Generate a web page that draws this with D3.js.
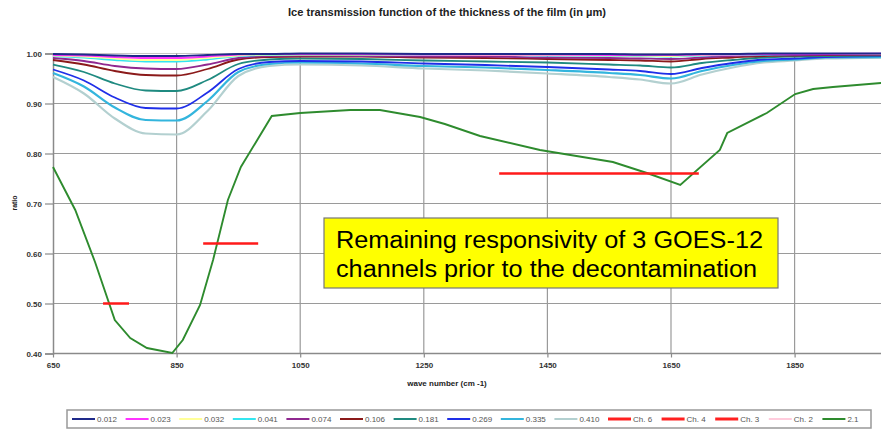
<!DOCTYPE html>
<html><head><meta charset="utf-8">
<script src="https://cdn.jsdelivr.net/npm/d3@7"></script>
<style>
html,body{margin:0;padding:0;background:#fff;}
svg{display:block;font-family:"Liberation Sans",Arial,sans-serif;}
</style></head>
<body>
<svg id="chart" width="881" height="429"></svg>
<script>
// ---------- DATA ----------
const chartTitle = "Ice transmission function of  the thickness of the film (in µm)";
const xTitle = "wave number (cm -1)";
const yTitle = "ratio";
const xTicks = [650, 850, 1050, 1250, 1450, 1650, 1850];
const yTicks = [0.40, 0.50, 0.60, 0.70, 0.80, 0.90, 1.00];

const wavenumbers = [650,700,750,800,850,900,950,1000,1050,1150,1250,1350,1450,1550,1600,1650,1700,1750,1800,1850,1900,2000];
const t0012 = [.999,.998,.996,.995,.995,.997,.999,.999,1.0,1.0,.999,.999,.999,.999,.998,.998,.999,.999,1.0,1.0,1.0,1.0];
const t0023 = [.997,.996,.993,.991,.991,.994,.998,.999,.999,.999,.998,.998,.998,.997,.997,.997,.998,.998,.999,.999,.999,1.0];
const t0032 = [.996,.994,.990,.987,.987,.991,.996,.998,.998,.998,.998,.997,.997,.996,.996,.995,.997,.998,.999,.999,.999,.999];
const t0041 = [.995,.992,.987,.984,.984,.988,.995,.997,.998,.998,.997,.997,.996,.995,.995,.994,.996,.997,.998,.999,.999,.999];
const t0074 = [.991,.985,.975,.970,.969,.978,.991,.995,.996,.995,.994,.994,.992,.991,.990,.989,.992,.995,.997,.997,.998,.998];
const t0106 = [.987,.978,.965,.957,.956,.969,.988,.993,.994,.994,.992,.991,.989,.987,.986,.984,.989,.992,.995,.996,.997,.998];
const t0181 = [.978,.963,.940,.926,.925,.947,.979,.988,.990,.989,.986,.984,.982,.978,.976,.972,.981,.987,.992,.994,.995,.996];
const t0269 = [.968,.946,.912,.891,.890,.922,.969,.983,.985,.984,.980,.977,.973,.968,.965,.959,.971,.981,.988,.990,.993,.995];
const t0335 = [.961,.934,.892,.867,.866,.905,.963,.979,.982,.980,.975,.972,.967,.961,.957,.950,.965,.977,.985,.988,.992,.993];
const t0410 = [.953,.920,.870,.840,.838,.885,.955,.975,.978,.976,.970,.966,.960,.953,.948,.940,.958,.972,.982,.986,.990,.992];

const filmX = [650,686,718,750,775,802,843,860,888,909,933,954,1004,1050,1131,1179,1244,1284,1341,1438,1556,1611,1665,1729,1741,1805,1851,1880,1912,1990];
const filmY = [.773,.687,.583,.467,.431,.411,.401,.427,.497,.587,.707,.773,.875,.881,.887,.887,.873,.859,.835,.807,.783,.761,.737,.807,.841,.881,.919,.929,.933,.941];

const channelNames = ["Ch. 6","Ch. 4","Ch. 3"];
const channelStart = [731, 893, 1372];
const channelEnd   = [773, 982, 1695];
const channelLevel = [0.50, 0.62, 0.76];

const seriesNames = ["0.012","0.023","0.032","0.041","0.074","0.106","0.181","0.269","0.335","0.410"];
const seriesValues = [t0012,t0023,t0032,t0041,t0074,t0106,t0181,t0269,t0335,t0410];
const legendNames = ["0.012","0.023","0.032","0.041","0.074","0.106","0.181","0.269","0.335","0.410","Ch. 6","Ch. 4","Ch. 3","Ch. 2","2.1"];

const noteLines = ["Remaining responsivity of 3 GOES-12","channels prior to the decontamination"];

// ---------- STYLE ----------
const seriesColors = ["#1f2a8a","#ff33ff","#ffff99","#33e6f0","#902890","#8b1a1a","#1f8a80","#1f2fe8","#33b5dd","#b3d0d0"];
const legendColors = seriesColors.concat(["#ff2020","#ff2020","#ff2020","#ffccdd","#2e8b2e"]);
const legendWidths = [2,2,2,2,2,2,2,2,2,2,3,3,3,2,2];

const svg = d3.select("#chart");
const x = d3.scaleLinear().domain([650, 2000]).range([53, 887.3]);
const y = d3.scaleLinear().domain([0.40, 1.00]).range([353.5, 53.5]);

const plot = svg.append("g");
// gridlines
plot.selectAll(".hg").data(yTicks).enter().append("line")
  .attr("x1", x(650)).attr("x2", 881)
  .attr("y1", d => y(d)).attr("y2", d => y(d))
  .attr("stroke", d => d === 1.00 ? "#c8c8c8" : "#9a9a9a").attr("stroke-width", 1.2);
plot.selectAll(".vg").data(xTicks.slice(1)).enter().append("line")
  .attr("x1", d => x(d)).attr("x2", d => x(d))
  .attr("y1", y(1.0)).attr("y2", y(0.4))
  .attr("stroke", "#9a9a9a").attr("stroke-width", 1.2);

// axes
const yAxis = d3.axisLeft(y).tickValues(yTicks).tickFormat(d3.format(".2f")).tickSize(8).tickPadding(3);
const gy = svg.append("g").attr("transform", `translate(${x(650)},0)`).call(yAxis);
const xAxis = d3.axisBottom(x).tickValues(xTicks).tickFormat(d3.format("d")).tickSize(4).tickPadding(5);
const gx = svg.append("g").attr("transform", `translate(0,${y(0.4)})`).call(xAxis);
[gx, gy].forEach(g => {
  g.select(".domain").attr("stroke", "#8a8a8a").attr("stroke-width", 1.5);
  g.selectAll(".tick line").attr("stroke", "#8a8a8a").attr("stroke-width", 1.2);
  g.selectAll(".tick text").attr("fill", "#333").attr("font-size", "8px").attr("font-weight", "bold")
    .attr("font-family", "'Liberation Sans',Arial,sans-serif");
});
gx.select(".domain").attr("d", `M${x(650)},0H881`);

// thickness curves
const line = d3.line().x((d, i) => x(wavenumbers[i])).y(d => y(d)).curve(d3.curveMonotoneX);
const order = [9,8,7,6,5,4,3,2,1,0];
order.forEach(i => {
  svg.append("path").datum(seriesValues[i]).attr("d", line)
    .attr("fill", "none").attr("stroke", seriesColors[i])
    .attr("stroke-width", i >= 8 ? 2.2 : 1.8);
});

// film curve 2.1
const fline = d3.line().x((d, i) => x(filmX[i])).y(d => y(d));
svg.append("path").datum(filmY).attr("d", fline)
  .attr("fill", "none").attr("stroke", "#2e8b2e").attr("stroke-width", 1.9);

// channel bars
channelLevel.forEach((v, i) => {
  svg.append("line").attr("x1", x(channelStart[i])).attr("x2", x(channelEnd[i]))
    .attr("y1", y(v)).attr("y2", y(v)).attr("stroke", "#ff1a1a").attr("stroke-width", 2.5);
});

// note box
svg.append("rect").attr("x", 324).attr("y", 218).attr("width", 454).attr("height", 70)
  .attr("fill", "#ffff00").attr("stroke", "#777").attr("stroke-width", 1.2);
const noteWidths = [427, 421];
noteLines.forEach((t, i) => {
  svg.append("text").attr("x", 336).attr("y", 248 + i * 29).text(t)
    .attr("font-size", "23px").attr("fill", "#000")
    .attr("textLength", noteWidths[i]).attr("lengthAdjust", "spacingAndGlyphs")
    .attr("font-family", "'Liberation Sans',Arial,sans-serif");
});

// titles
svg.append("text").attr("x", 447).attr("y", 16).attr("text-anchor", "middle")
  .attr("font-size", "10px").attr("font-weight", "bold").attr("fill", "#222")
  .attr("textLength", 318).attr("lengthAdjust", "spacingAndGlyphs").text(chartTitle);
svg.append("text").attr("x", 447).attr("y", 386).attr("text-anchor", "middle")
  .attr("font-size", "8px").attr("font-weight", "bold").attr("fill", "#222").text(xTitle);
svg.append("text").attr("transform", "translate(17,203) rotate(-90)").attr("text-anchor", "middle")
  .attr("font-size", "7px").attr("font-weight", "bold").attr("fill", "#222").text(yTitle);

// legend
const lg = svg.append("g");
lg.append("rect").attr("x", 67).attr("y", 410).attr("width", 804).attr("height", 18)
  .attr("fill", "#fff").attr("stroke", "#999").attr("stroke-width", 1.5);
legendNames.forEach((n, i) => {
  const sx = 72 + i * 53.6;
  lg.append("line").attr("x1", sx).attr("x2", sx + 23).attr("y1", 419).attr("y2", 419)
    .attr("stroke", legendColors[i]).attr("stroke-width", legendWidths[i]);
  lg.append("text").attr("x", sx + 25).attr("y", 422).text(n)
    .attr("font-size", "8px").attr("fill", "#555");
});
</script>
</body></html>
